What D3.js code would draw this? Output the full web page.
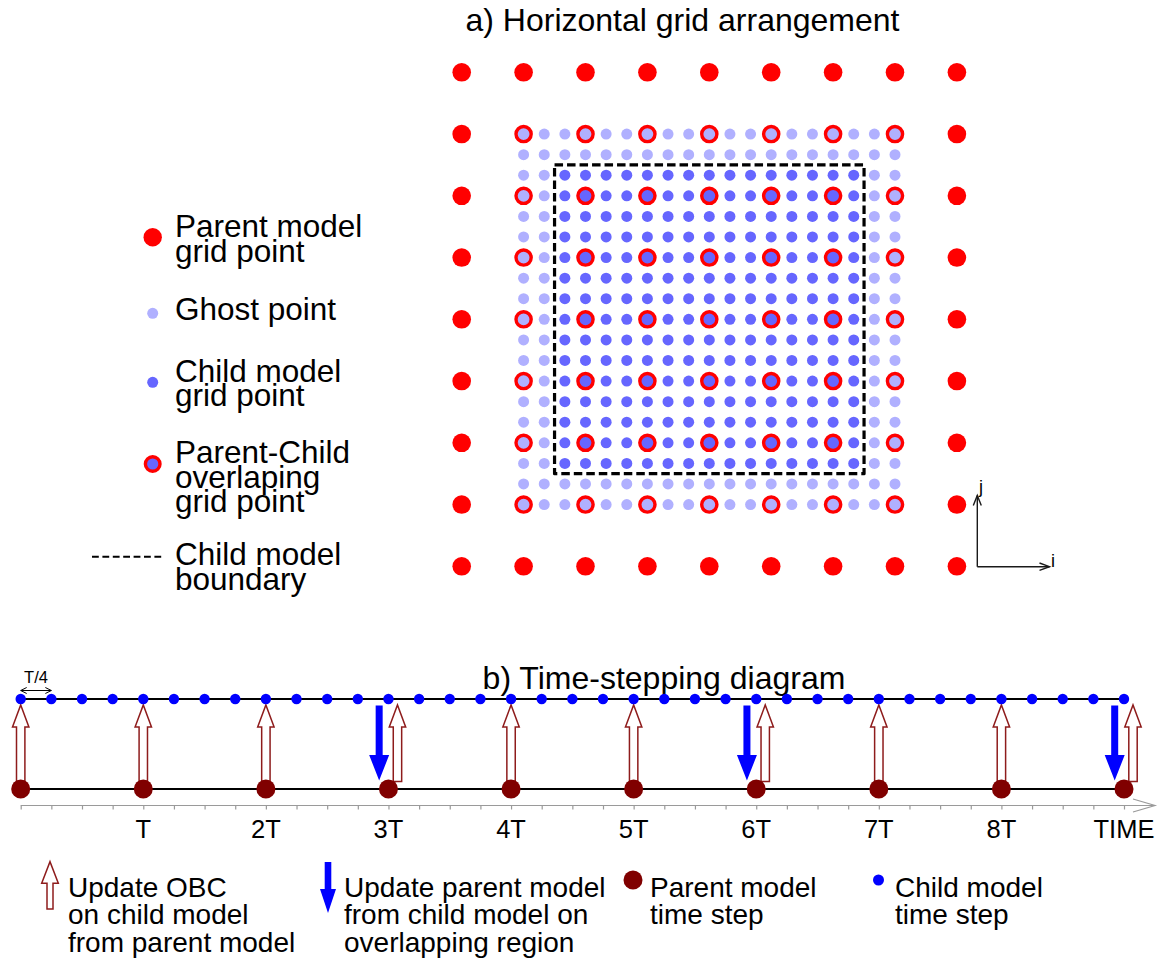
<!DOCTYPE html>
<html>
<head>
<meta charset="utf-8">
<script src="https://cdn.jsdelivr.net/npm/d3@7"></script>
<style>
  html, body { margin: 0; padding: 0; background: #fff; }
  svg { display: block; }
  text { font-family: "Liberation Sans", Arial, Helvetica, sans-serif; fill: #000; }
</style>
</head>
<body>
<svg id="chart" width="1161" height="963"></svg>
<script>
// ---- Panel a: nested grid layout ----
const parentIdx = [0, 1, 2, 3, 4, 5, 6, 7, 8];              // parent grid i / j indices
const childIdx = [0, 1, 2, 3, 4, 5, 6, 7, 8, 9, 10, 11, 12, 13, 14, 15, 16, 17, 18]; // child grid indices
const refine = 3;          // child cells per parent cell
const childOrigin = 1;     // parent index where the child grid starts
const ghostWidth = 2;      // ghost rows/columns on each side of the child domain

const gridLegend = [
  { kind: "parent",  lines: ["Parent model", "grid point"] },
  { kind: "ghost",   lines: ["Ghost point"] },
  { kind: "child",   lines: ["Child model", "grid point"] },
  { kind: "overlap", lines: ["Parent-Child", "overlaping", "grid point"] },
  { kind: "boundary", lines: ["Child model", "boundary"] }
];

// ---- Panel b: time stepping ----
const parentSteps = [0, 1, 2, 3, 4, 5, 6, 7, 8, 9];
const childSteps = [0, 0.25, 0.5, 0.75, 1, 1.25, 1.5, 1.75, 2, 2.25, 2.5, 2.75, 3, 3.25, 3.5, 3.75,
  4, 4.25, 4.5, 4.75, 5, 5.25, 5.5, 5.75, 6, 6.25, 6.5, 6.75, 7, 7.25, 7.5, 7.75, 8, 8.25, 8.5, 8.75, 9];
const obcSteps = [0, 1, 2, 3, 4, 5, 6, 7, 8, 9];     // parent -> child boundary updates
const feedbackSteps = [3, 6, 9];                      // child -> parent updates
const tickValues = [1, 2, 3, 4, 5, 6, 7, 8, 9];
const tickLabels = ["T", "2T", "3T", "4T", "5T", "6T", "7T", "8T", "TIME"];

const timeLegend = [
  { kind: "obc",      lines: ["Update OBC", "on child model", "from parent model"] },
  { kind: "feedback", lines: ["Update parent model", "from child model on", "overlapping region"] },
  { kind: "pstep",    lines: ["Parent model", "time step"] },
  { kind: "cstep",    lines: ["Child model", "time step"] }
];

const C = {
  red: "#ff0000", ghost: "#b0b0ff", child: "#6666ff",
  maroon: "#800000", obc: "#8e1c1c", blue: "#0000ff", axis: "#9a9a9a"
};

const svg = d3.select("#chart");
svg.append("rect").attr("width", 1161).attr("height", 963).attr("fill", "#fff");

// ================= Panel a =================
const gx = d3.scaleLinear().domain([0, 8]).range([461.7, 956.9]);
const gy = d3.scaleLinear().domain([0, 8]).range([72.3, 566.3]);
const cpos = k => childOrigin + k / refine;
const nC = childIdx.length;

svg.append("text").attr("x", 682.5).attr("y", 31).attr("text-anchor", "middle")
  .attr("font-size", 32).text("a) Horizontal grid arrangement");

const ga = svg.append("g");

// parent points outside the child domain
const parentPts = [];
parentIdx.forEach(j => parentIdx.forEach(i => {
  const inside = i >= childOrigin && i <= childOrigin + (nC - 1) / refine &&
                 j >= childOrigin && j <= childOrigin + (nC - 1) / refine;
  if (!inside) parentPts.push({ i, j });
}));
ga.selectAll("circle.parent").data(parentPts).join("circle").attr("class", "parent")
  .attr("cx", d => gx(d.i)).attr("cy", d => gy(d.j)).attr("r", 9.3).attr("fill", C.red);

// child + ghost points
const childPts = [];
childIdx.forEach(j => childIdx.forEach(i => {
  const ghost = i < ghostWidth || j < ghostWidth || i > nC - 1 - ghostWidth || j > nC - 1 - ghostWidth;
  const overlap = i % refine === 0 && j % refine === 0;
  childPts.push({ i, j, ghost, overlap });
}));
ga.selectAll("circle.child").data(childPts.filter(d => !d.overlap)).join("circle").attr("class", "child")
  .attr("cx", d => gx(cpos(d.i))).attr("cy", d => gy(cpos(d.j))).attr("r", 5.5)
  .attr("fill", d => d.ghost ? C.ghost : C.child);
ga.selectAll("circle.overlap").data(childPts.filter(d => d.overlap)).join("circle").attr("class", "overlap")
  .attr("cx", d => gx(cpos(d.i))).attr("cy", d => gy(cpos(d.j))).attr("r", 7.6)
  .attr("fill", d => d.ghost ? C.ghost : C.child).attr("stroke", C.red).attr("stroke-width", 3.4);

// child model boundary (half a child cell outside the interior points)
const bLo = cpos(ghostWidth - 0.5), bHi = cpos(nC - 1 - ghostWidth + 0.5);
ga.append("rect")
  .attr("x", gx(bLo)).attr("y", gy(bLo))
  .attr("width", gx(bHi) - gx(bLo)).attr("height", gy(bHi) - gy(bLo))
  .attr("fill", "none").attr("stroke", "#000").attr("stroke-width", 3.2)
  .attr("stroke-dasharray", "8.5,4").attr("stroke-linejoin", "round");

// i / j direction arrows
const ij = svg.append("g").attr("stroke", "#1a1a1a").attr("stroke-width", 1.4).attr("fill", "none");
ij.append("path").attr("d", "M977.3,566.7 V495.5 M977.3,566.7 H1049.5");
ij.append("path").attr("d", "M973.3,505.5 L977.3,495.5 L981.3,505.5");
ij.append("path").attr("d", "M1039.5,563 L1049.5,566.7 L1039.5,570.4");
svg.append("text").attr("x", 979).attr("y", 493).attr("font-size", 18).text("j");
svg.append("text").attr("x", 1051).attr("y", 566.5).attr("font-size", 18).text("i");

// legend for panel a
const laY = { parent: 237, ghost: 320, child: 381.7, overlap: 463, boundary: 565 };
const laMark = { parent: 237.3, ghost: 313.3, child: 382.3, overlap: 464, boundary: 556.7 };
const la = svg.append("g");
gridLegend.forEach(item => {
  const my = laMark[item.kind];
  if (item.kind === "parent") la.append("circle").attr("cx", 152.7).attr("cy", my).attr("r", 9.2).attr("fill", C.red);
  if (item.kind === "ghost") la.append("circle").attr("cx", 152.7).attr("cy", my).attr("r", 5.5).attr("fill", C.ghost);
  if (item.kind === "child") la.append("circle").attr("cx", 152.7).attr("cy", my).attr("r", 5.5).attr("fill", C.child);
  if (item.kind === "overlap") la.append("circle").attr("cx", 152.7).attr("cy", my).attr("r", 7.3)
    .attr("fill", C.child).attr("stroke", C.red).attr("stroke-width", 3.4);
  if (item.kind === "boundary") la.append("line").attr("x1", 92).attr("x2", 164).attr("y1", my).attr("y2", my)
    .attr("stroke", "#000").attr("stroke-width", 2).attr("stroke-dasharray", "6.8,3.6");
  const t = la.append("text").attr("x", 175).attr("y", laY[item.kind]).attr("font-size", 31.5);
  item.lines.forEach((s, k) => t.append("tspan").attr("x", 175).attr("y", laY[item.kind] + k * 24.6).text(s));
});

// ================= Panel b =================
const xt = d3.scaleLinear().domain([0, 9]).range([20.7, 1124]);
const yChild = 699, yParent = 789, yAxis = 805.5;

svg.append("text").attr("x", 664).attr("y", 689).attr("text-anchor", "middle")
  .attr("font-size", 32).text("b) Time-stepping diagram");

const gb = svg.append("g");

// time axis
const axisG = gb.append("g").attr("transform", `translate(0,${yAxis})`)
  .call(d3.axisBottom(xt).tickValues(childSteps).tickSize(4).tickFormat(""));
axisG.select(".domain").remove();
axisG.selectAll(".tick line").attr("stroke", C.axis).attr("stroke-width", 1.2);
gb.append("line").attr("x1", xt(0)).attr("x2", 1155).attr("y1", yAxis).attr("y2", yAxis)
  .attr("stroke", C.axis).attr("stroke-width", 1.2);
gb.append("path").attr("d", `M1133,${yAxis - 6.5} L1155,${yAxis} L1133,${yAxis + 6.5}`)
  .attr("fill", "none").attr("stroke", C.axis).attr("stroke-width", 1.2);
gb.selectAll("text.tl").data(tickValues).join("text").attr("class", "tl")
  .attr("x", d => xt(d)).attr("y", 838).attr("text-anchor", "middle").attr("font-size", 25.5)
  .text((d, k) => tickLabels[k]);

// model time lines
[yChild, yParent].forEach(y => gb.append("line").attr("x1", xt(0)).attr("x2", xt(9))
  .attr("y1", y).attr("y2", y).attr("stroke", "#000").attr("stroke-width", 2));

// arrow shapes
function upArrow(cx, tip, base, shaft, head, headLen) {
  return `M${cx - shaft},${base} L${cx - shaft},${tip + headLen} L${cx - head},${tip + headLen} L${cx},${tip}` +
         ` L${cx + head},${tip + headLen} L${cx + shaft},${tip + headLen} L${cx + shaft},${base} Z`;
}
function downArrow(cx, top, tip, shaft, head, headLen) {
  return `M${cx - shaft},${top} L${cx - shaft},${tip - headLen} L${cx - head},${tip - headLen} L${cx},${tip}` +
         ` L${cx + head},${tip - headLen} L${cx + shaft},${tip - headLen} L${cx + shaft},${top} Z`;
}

// child -> parent feedback arrows
gb.selectAll("path.fb").data(feedbackSteps).join("path").attr("class", "fb")
  .attr("d", d => downArrow(xt(d) - 9.3, 705.5, 780.5, 3.5, 10, 25.5)).attr("fill", C.blue);

// parent -> child open boundary updates
gb.selectAll("path.obc").data(obcSteps).join("path").attr("class", "obc")
  .attr("d", d => upArrow(xt(d) + (feedbackSteps.includes(d) ? 9 : 0), 705, 781.5, 4.2, 8.2, 22))
  .attr("fill", "#fff").attr("stroke", C.obc).attr("stroke-width", 1.5);

// time steps
gb.selectAll("circle.ps").data(parentSteps).join("circle").attr("class", "ps")
  .attr("cx", d => xt(d)).attr("cy", yParent).attr("r", 9.5).attr("fill", C.maroon);
gb.selectAll("circle.cs").data(childSteps).join("circle").attr("class", "cs")
  .attr("cx", d => xt(d)).attr("cy", yChild).attr("r", 5.2).attr("fill", C.blue);

// T/4 spacing marker
const qx0 = xt(childSteps[0]), qx1 = xt(childSteps[1]), qy = 690.5;
const q = gb.append("g").attr("stroke", "#000").attr("stroke-width", 1).attr("fill", "none");
q.append("line").attr("x1", qx0).attr("x2", qx1).attr("y1", qy).attr("y2", qy);
q.append("path").attr("d", `M${qx0 + 6},${qy - 3} L${qx0},${qy} L${qx0 + 6},${qy + 3}`);
q.append("path").attr("d", `M${qx1 - 6},${qy - 3} L${qx1},${qy} L${qx1 - 6},${qy + 3}`);
gb.append("text").attr("x", (qx0 + qx1) / 2).attr("y", 683).attr("text-anchor", "middle")
  .attr("font-size", 16.5).text("T/4");

// legend for panel b
const lb = svg.append("g");
const lbX = { obc: 68, feedback: 344, pstep: 650, cstep: 895 };
const lbBase = 896.7, lbStep = 27.7;
timeLegend.forEach(item => {
  if (item.kind === "obc") lb.append("path").attr("d", upArrow(50, 861.7, 909, 3, 8.3, 21.5))
    .attr("fill", "#fff").attr("stroke", C.obc).attr("stroke-width", 1.5);
  if (item.kind === "feedback") lb.append("path").attr("d", downArrow(328, 862, 913, 3.3, 8, 24))
    .attr("fill", C.blue);
  if (item.kind === "pstep") lb.append("circle").attr("cx", 633).attr("cy", 880).attr("r", 9.5).attr("fill", C.maroon);
  if (item.kind === "cstep") lb.append("circle").attr("cx", 878.5).attr("cy", 880).attr("r", 5.5).attr("fill", C.blue);
  const t = lb.append("text").attr("font-size", 28);
  item.lines.forEach((s, k) => t.append("tspan").attr("x", lbX[item.kind]).attr("y", lbBase + k * lbStep).text(s));
});
</script>
</body>
</html>
